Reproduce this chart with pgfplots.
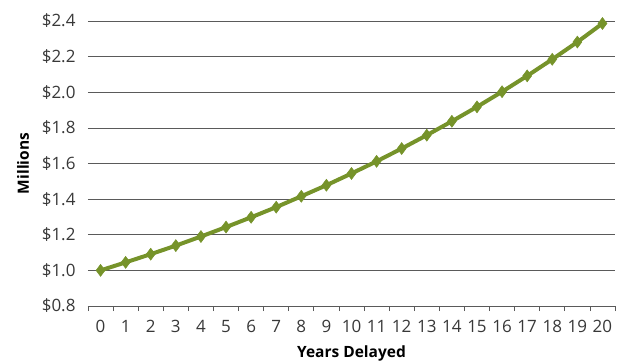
\documentclass[border=0pt]{standalone}
\usepackage{fontspec}
\setmainfont{Open Sans}
\usepackage{pgfplots}
\pgfplotsset{compat=1.18}
\definecolor{olive}{HTML}{76932A}
\definecolor{gridc}{HTML}{5A5A5A}
\begin{document}
\begin{tikzpicture}[x=1pt,y=1pt]
\begin{axis}[
  scale only axis,
  width=527pt, height=285pt,
  xmin=-0.5, xmax=20.5,
  ymin=0.8, ymax=2.4,
  xtick={-0.5,0.5,...,20.5},
  xticklabels={0,1,2,3,4,5,6,7,8,9,10,11,12,13,14,15,16,17,18,19,20,{}},
  xticklabel style={xshift=12.55pt, yshift=-6pt},
  x tick style={draw=gridc, line width=0.8pt},
  major tick length=5pt,
  tick align=outside,
  ytick={0.8,1.0,...,2.4},
  yticklabel={\$\pgfmathprintnumber[fixed,fixed zerofill,precision=1]{\tick}},
  /pgf/number format/assume math mode=true,
  y tick style={draw=none},
  ymajorgrids,
  grid style={draw=gridc, line width=0.75pt},
  axis x line*=bottom,
  axis y line*=left,
  x axis line style={draw=gridc, line width=0.8pt, -},
  y axis line style={draw=none},
  tick label style={font=\fontsize{17}{19}\selectfont, text=black!78},
  yticklabel style={xshift=-4pt},
  xlabel={\textbf{Years Delayed}},
  ylabel={\textbf{Millions}},
  label style={font=\fontsize{15.5}{17}\selectfont},
  xlabel style={yshift=-6pt},
  ylabel style={yshift=6pt},
  clip=false,
]
\addplot[color=olive, line width=4pt, mark=diamond*, mark size=6pt, mark options={fill=olive, line width=0.5pt}] coordinates {
(0,1.000) (1,1.045) (2,1.091) (3,1.139) (4,1.190) (5,1.243) (6,1.298) (7,1.355) (8,1.416) (9,1.478) (10,1.544)
(11,1.612) (12,1.684) (13,1.759) (14,1.837) (15,1.918) (16,2.003) (17,2.092) (18,2.185) (19,2.282) (20,2.386)
};
\end{axis}
\pgfresetboundingbox
\path[use as bounding box] (-88,-54) rectangle (538,306);
\end{tikzpicture}
\end{document}
